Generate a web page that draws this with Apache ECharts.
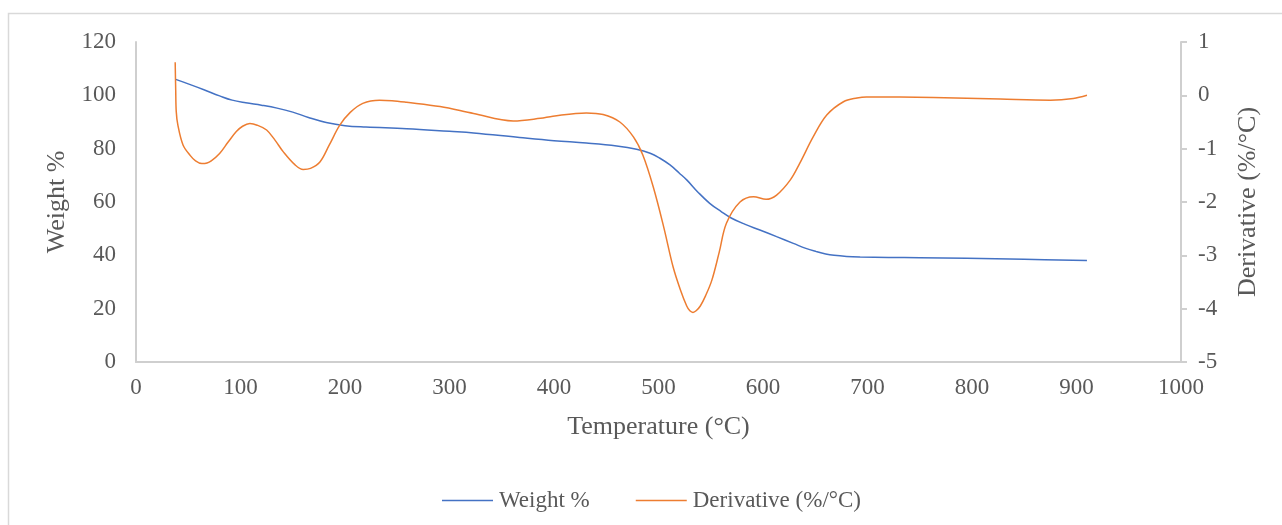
<!DOCTYPE html>
<html>
<head>
<meta charset="utf-8">
<script src="https://cdn.jsdelivr.net/npm/echarts@6/dist/echarts.min.js"></script>
<style>
  html, body { margin: 0; padding: 0; background: #ffffff; }
  #chart { width: 1282px; height: 525px; }
</style>
</head>
<body>
<div id="chart"></div>
<script>
// Thermogravimetric curve: residual weight and its derivative vs temperature
const weightTemp = [38, 50, 65, 80, 92, 105, 120, 135, 150, 165, 182, 200, 220, 259, 300, 323, 367, 400, 431, 460, 479, 492, 501, 511, 520, 527, 538, 549, 560, 570, 583, 597, 613, 629, 641, 651, 660, 668, 680, 693, 720, 750, 795, 850, 910];
const weightPct  = [106.0, 104.3, 102.1, 99.8, 98.2, 97.2, 96.3, 95.2, 93.7, 91.7, 89.8, 88.6, 88.1, 87.5, 86.5, 85.9, 84.2, 83.0, 82.1, 81.0, 79.8, 78.3, 76.5, 73.9, 70.8, 68.3, 63.6, 59.5, 56.4, 53.9, 51.6, 49.5, 47.0, 44.5, 42.6, 41.4, 40.5, 40.0, 39.6, 39.4, 39.2, 39.1, 38.9, 38.5, 38.1];

const derivTemp = [37.5, 38.0, 38.5, 40, 45, 52, 57, 63, 68, 72, 80, 88, 96, 102, 109, 116, 125, 133, 141, 152, 160, 167, 176, 185, 195, 205, 217, 233, 245, 259, 291, 323, 361, 387, 399, 431, 447, 463, 476, 485, 495, 505, 514, 521, 527, 530, 533, 536, 540, 545, 551, 558, 565, 578, 591, 603, 613, 626, 635, 648, 661, 677, 690, 699, 763, 827, 875, 897, 910];
const derivVals = [0.62, 0.10, -0.30, -0.55, -0.93, -1.13, -1.23, -1.28, -1.27, -1.23, -1.09, -0.88, -0.68, -0.58, -0.53, -0.56, -0.65, -0.84, -1.06, -1.30, -1.39, -1.37, -1.25, -0.93, -0.56, -0.32, -0.15, -0.09, -0.10, -0.13, -0.21, -0.34, -0.48, -0.43, -0.39, -0.33, -0.36, -0.50, -0.78, -1.12, -1.72, -2.47, -3.22, -3.65, -3.95, -4.04, -4.07, -4.04, -3.95, -3.76, -3.47, -2.95, -2.40, -2.00, -1.90, -1.95, -1.87, -1.59, -1.28, -0.78, -0.37, -0.12, -0.05, -0.03, -0.04, -0.07, -0.09, -0.06, 0.00];

const seriesNames = ['Weight %', 'Derivative (%/°C)'];
const xTitle = 'Temperature (°C)';

const FONT = 'Liberation Serif';
const TEXT = '#595959';
const AXIS = '#cfcfcf';

const pairs = (xs, ys) => xs.map((x, i) => [x, ys[i]]);
const plain = v => String(v);

const chart = echarts.init(document.getElementById('chart'), null, { renderer: 'canvas' });

chart.setOption({
  backgroundColor: '#ffffff',
  animation: false,
  textStyle: { fontFamily: FONT, color: TEXT },
  graphic: [{
    type: 'rect',
    shape: { x: 8.5, y: 13.5, width: 1400, height: 600 },
    style: { fill: 'none', stroke: '#d9d9d9', lineWidth: 1.5 },
    silent: true,
    z: -10
  }],
  grid: { left: 136, right: 101, top: 42, bottom: 163, containLabel: false },
  legend: {
    left: 437,
    top: 484,
    icon: 'rect',
    itemWidth: 51,
    itemHeight: 1.5,
    itemGap: 46,
    textStyle: { fontFamily: FONT, fontSize: 23, color: TEXT, padding: [0, 0, 0, 1] },
    data: seriesNames
  },
  xAxis: {
    type: 'value',
    min: 0, max: 1000, interval: 100,
    name: xTitle,
    nameLocation: 'middle',
    nameGap: 52,
    nameTextStyle: { fontFamily: FONT, fontSize: 26, color: TEXT },
    axisLine: { show: true, lineStyle: { color: AXIS, width: 2 } },
    axisTick: { show: false },
    axisLabel: { fontFamily: FONT, fontSize: 23, color: TEXT, margin: 14, formatter: plain },
    splitLine: { show: false }
  },
  yAxis: [{
    type: 'value',
    position: 'left',
    min: 0, max: 120, interval: 20,
    name: seriesNames[0],
    nameLocation: 'middle',
    nameRotate: 90,
    nameGap: 66,
    nameTextStyle: { fontFamily: FONT, fontSize: 26, color: TEXT },
    axisLine: { show: true, lineStyle: { color: AXIS, width: 2 } },
    axisTick: { show: false },
    axisLabel: { fontFamily: FONT, fontSize: 23, color: TEXT, margin: 20, formatter: plain },
    splitLine: { show: false }
  }, {
    type: 'value',
    position: 'right',
    min: -5, max: 1, interval: 1,
    name: seriesNames[1],
    nameLocation: 'middle',
    nameRotate: 90,
    nameGap: 54,
    nameTextStyle: { fontFamily: FONT, fontSize: 26, color: TEXT },
    axisLine: { show: true, lineStyle: { color: AXIS, width: 2 } },
    axisTick: { show: true, inside: false, length: 6, lineStyle: { color: AXIS, width: 2 } },
    axisLabel: { fontFamily: FONT, fontSize: 23, color: TEXT, margin: 17, formatter: plain },
    splitLine: { show: false }
  }],
  series: [{
    name: seriesNames[0],
    type: 'line',
    yAxisIndex: 0,
    data: pairs(weightTemp, weightPct),
    smooth: 0.4,
    symbol: 'none',
    lineStyle: { color: '#4472C4', width: 1.5 },
    itemStyle: { color: '#4472C4' }
  }, {
    name: seriesNames[1],
    type: 'line',
    yAxisIndex: 1,
    data: pairs(derivTemp, derivVals),
    smooth: 0.35,
    symbol: 'none',
    lineStyle: { color: '#ED7D31', width: 1.5 },
    itemStyle: { color: '#ED7D31' }
  }]
});
</script>
</body>
</html>
